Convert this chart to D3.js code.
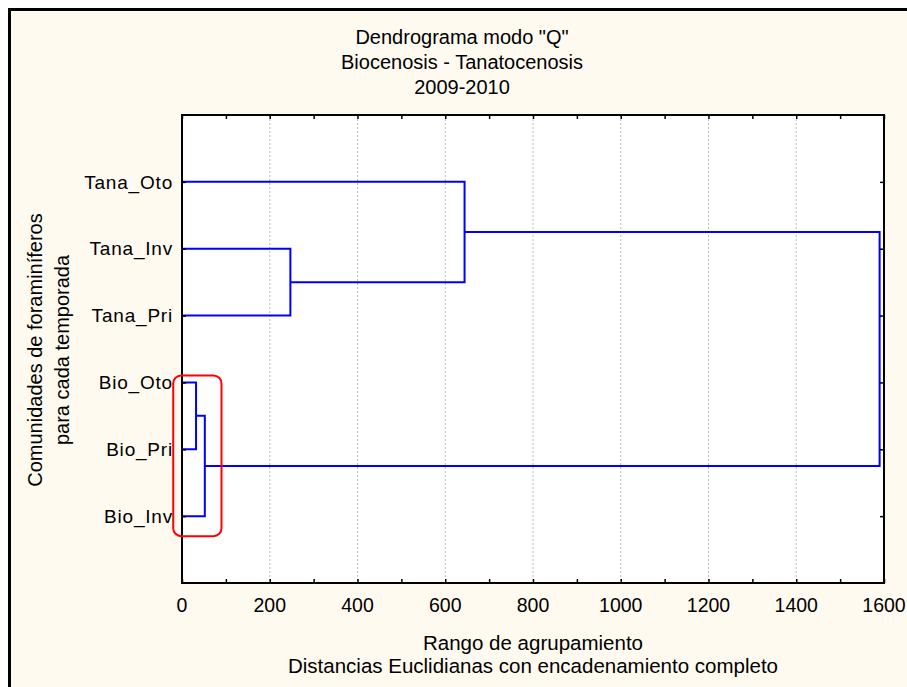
<!DOCTYPE html>
<html>
<head>
<meta charset="utf-8">
<script src="https://cdn.jsdelivr.net/npm/d3@7"></script>
<style>
  body { margin: 0; background: #fff; }
  text { font-family: "Liberation Sans", Arial, sans-serif; fill: #000; }
</style>
</head>
<body>
<script>
// leaves top to bottom
const leaves = ["Tana_Oto", "Tana_Inv", "Tana_Pri", "Bio_Oto", "Bio_Pri", "Bio_Inv"];
// merges: [left, right, linkage distance]
const merges = [
  ["Bio_Oto", "Bio_Pri", 32],
  ["m0", "Bio_Inv", 52],
  ["Tana_Inv", "Tana_Pri", 247],
  ["Tana_Oto", "m2", 644],
  ["m3", "m1", 1590]
];
const titleLines = ['Dendrograma modo "Q"', "Biocenosis - Tanatocenosis", "2009-2010"];
const xTitleLines = ["Rango de agrupamiento", "Distancias Euclidianas con encadenamiento completo"];
const yTitleLines = ["Comunidades de foraminíferos", "para cada temporada"];
const xMax = 1600;

const W = 907, H = 687;
const plot = {left: 182, right: 884, top: 115, bottom: 583};

const svg = d3.select("body").append("svg")
  .attr("width", W).attr("height", H);

// cream panel with thick frame running off the picture
svg.append("rect")
  .attr("x", 9.5).attr("y", 9.5)
  .attr("width", 1000).attr("height", 1000)
  .attr("fill", "#fefaf0")
  .attr("stroke", "#000").attr("stroke-width", 3);

const x = d3.scaleLinear().domain([0, xMax]).range([plot.left, plot.right]);
const y = d3.scalePoint().domain(leaves).range([plot.top, plot.bottom]).padding(1);

svg.append("rect")
  .attr("x", plot.left).attr("y", plot.top)
  .attr("width", plot.right - plot.left).attr("height", plot.bottom - plot.top)
  .attr("fill", "#fff");

// grid
svg.append("g").selectAll("line")
  .data(d3.range(200, xMax, 200))
  .join("line")
  .attr("x1", d => x(d)).attr("x2", d => x(d))
  .attr("y1", plot.top).attr("y2", plot.bottom)
  .attr("stroke", "#bdbdbd").attr("stroke-width", 1)
  .attr("stroke-dasharray", "2,2");

// dendrogram links
const pos = {};
leaves.forEach(l => pos[l] = {x: 0, y: y(l)});
const links = svg.append("g")
  .attr("fill", "none").attr("stroke", "#0000ff").attr("stroke-width", 2);
merges.forEach((m, i) => {
  const a = pos[m[0]], b = pos[m[1]], h = m[2];
  links.append("path").attr("d",
    `M${x(a.x)},${a.y}H${x(h)}V${b.y}H${x(b.x)}`);
  pos["m" + i] = {x: h, y: (a.y + b.y) / 2};
});

// axes (ticks pointing inward)
const minor = d3.range(0, xMax + 1, 100);
const axB = svg.append("g").attr("transform", `translate(0,${plot.bottom})`)
  .call(d3.axisBottom(x).tickValues(minor).tickSizeInner(-4).tickSizeOuter(0).tickFormat(""));
const axT = svg.append("g").attr("transform", `translate(0,${plot.top})`)
  .call(d3.axisTop(x).tickValues(minor).tickSizeInner(-4).tickSizeOuter(0).tickFormat(""));
const axL = svg.append("g").attr("transform", `translate(${plot.left},0)`)
  .call(d3.axisLeft(y).tickSizeInner(-4).tickSizeOuter(0).tickFormat(""));
const axR = svg.append("g").attr("transform", `translate(${plot.right},0)`)
  .call(d3.axisRight(y).tickSizeInner(-4).tickSizeOuter(0).tickFormat(""));
[axB, axT, axL, axR].forEach(g => {
  g.select(".domain").remove();
  g.selectAll("line").attr("stroke", "#000").attr("stroke-width", 1.5);
});

svg.append("rect")
  .attr("x", plot.left).attr("y", plot.top)
  .attr("width", plot.right - plot.left).attr("height", plot.bottom - plot.top)
  .attr("fill", "none").attr("stroke", "#000").attr("stroke-width", 2);

// x tick labels
svg.append("g").selectAll("text")
  .data(d3.range(0, xMax + 1, 200))
  .join("text")
  .attr("x", d => x(d)).attr("y", plot.bottom + 29)
  .attr("text-anchor", "middle")
  .attr("font-size", 19.5)
  .text(d => d);

// leaf labels
svg.append("g").selectAll("text")
  .data(leaves)
  .join("text")
  .attr("x", plot.left - 9).attr("y", d => y(d))
  .attr("dy", "0.35em")
  .attr("text-anchor", "end")
  .attr("font-size", 19)
  .attr("letter-spacing", 0.8)
  .text(d => d);

// red highlight around the Bio cluster
svg.append("rect")
  .attr("x", x(-20)).attr("y", y("Bio_Oto") - 7)
  .attr("width", x(90) - x(-20))
  .attr("height", y("Bio_Inv") - y("Bio_Oto") + 27)
  .attr("rx", 8)
  .attr("fill", "none").attr("stroke", "#ff0000").attr("stroke-width", 2);

// titles
svg.append("g").selectAll("text")
  .data(titleLines)
  .join("text")
  .attr("x", 462).attr("y", (d, i) => 44 + i * 25)
  .attr("text-anchor", "middle")
  .attr("font-size", 20)
  .text(d => d);

svg.append("g").selectAll("text")
  .data(xTitleLines)
  .join("text")
  .attr("x", (plot.left + plot.right) / 2).attr("y", (d, i) => 650 + i * 23)
  .attr("text-anchor", "middle")
  .attr("font-size", 20.5)
  .text(d => d);

svg.append("g").selectAll("text")
  .data(yTitleLines)
  .join("text")
  .attr("transform", (d, i) => `translate(${42 + i * 27},350) rotate(-90)`)
  .attr("text-anchor", "middle")
  .attr("font-size", 20)
  .text(d => d);
</script>
</body>
</html>
